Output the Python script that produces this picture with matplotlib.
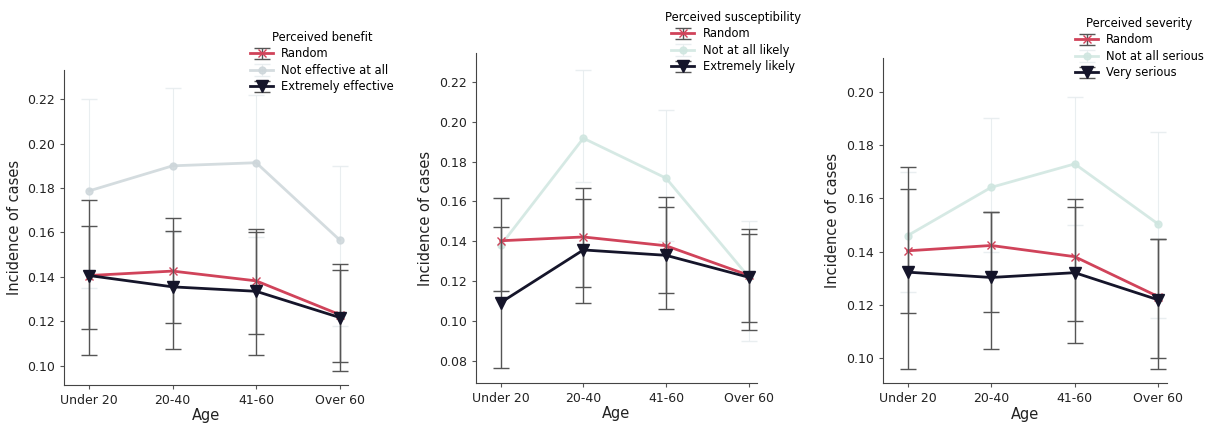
import matplotlib
matplotlib.use("Agg")
import matplotlib.pyplot as plt
import numpy as np

plt.rcParams["font.family"] = ["DejaVu Sans"]

ages = ["Under 20", "20-40", "41-60", "Over 60"]

# Panel 1: perceived benefit
benefit_title = "Perceived benefit"
benefit_labels = ["Random", "Not effective at all", "Extremely effective"]
benefit_mean = [
    [0.1406, 0.1426, 0.1382, 0.1230],
    [0.1787, 0.1900, 0.1914, 0.1566],
    [0.1406, 0.1355, 0.1335, 0.1217],
]
benefit_lo = [
    [0.1164, 0.1194, 0.1141, 0.1015],
    [0.1350, 0.1600, 0.1580, 0.1180],
    [0.1048, 0.1074, 0.1050, 0.0976],
]
benefit_hi = [
    [0.1630, 0.1666, 0.1614, 0.1433],
    [0.2200, 0.2250, 0.2220, 0.1900],
    [0.1746, 0.1608, 0.1603, 0.1460],
]

# Panel 2: perceived susceptibility
suscept_title = "Perceived susceptibility"
suscept_labels = ["Random", "Not at all likely", "Extremely likely"]
suscept_mean = [
    [0.1403, 0.1422, 0.1378, 0.1230],
    [0.1380, 0.1917, 0.1717, 0.1222],
    [0.1093, 0.1357, 0.1330, 0.1220],
]
suscept_lo = [
    [0.1152, 0.1172, 0.1139, 0.0997],
    [0.1150, 0.1700, 0.1400, 0.0900],
    [0.0763, 0.1092, 0.1060, 0.0958],
]
suscept_hi = [
    [0.1615, 0.1668, 0.1621, 0.1435],
    [0.1615, 0.2260, 0.2060, 0.1500],
    [0.1473, 0.1610, 0.1574, 0.1460],
]

# Panel 3: perceived severity
severity_title = "Perceived severity"
severity_labels = ["Random", "Not at all serious", "Very serious"]
severity_mean = [
    [0.1403, 0.1423, 0.1381, 0.1231],
    [0.1460, 0.1641, 0.1729, 0.1503],
    [0.1323, 0.1303, 0.1321, 0.1219],
]
severity_lo = [
    [0.1169, 0.1173, 0.1138, 0.1000],
    [0.1250, 0.1400, 0.1500, 0.1150],
    [0.0960, 0.1034, 0.1056, 0.0960],
]
severity_hi = [
    [0.1636, 0.1548, 0.1598, 0.1446],
    [0.1700, 0.1900, 0.1980, 0.1850],
    [0.1719, 0.1548, 0.1566, 0.1446],
]

panels = [
    (benefit_title, benefit_labels, benefit_mean, benefit_lo, benefit_hi,
     [0.0527, 0.0898, 0.234, 0.745], (0.0913, 0.2332), np.arange(0.10, 0.221, 0.02),
     (250, 31), "#cdd6da"),
    (suscept_title, suscept_labels, suscept_mean, suscept_lo, suscept_hi,
     [0.392, 0.0946, 0.2315, 0.780], (0.069, 0.2344), np.arange(0.08, 0.221, 0.02),
     (665, 11), "#cfe6e0"),
    (severity_title, severity_labels, severity_mean, severity_lo, severity_hi,
     [0.727, 0.0938, 0.234, 0.769], (0.0906, 0.2126), np.arange(0.10, 0.201, 0.02),
     (1075, 17), "#cfe6e0"),
]

W, H = 1214, 423
fig = plt.figure(figsize=(W / 100, H / 100), dpi=100)

x = np.arange(len(ages))
for title, labels, means, los, his, rect, ylim, yticks, leg_xy, light in panels:
    ax = fig.add_axes(rect)
    styles = [
        dict(color="#d0435a", marker="x", ms=6, lw=2, ecolor="#555555",
             elinewidth=1, alpha=1.0, zorder=3),
        dict(color=light, marker="o", ms=5, lw=2, ecolor="#e6ecee",
             elinewidth=0.8, alpha=0.85, zorder=1),
        dict(color="#15152a", marker="v", ms=8, lw=2, ecolor="#555555",
             elinewidth=1, alpha=1.0, zorder=4),
    ]
    for lab, m, lo, hi, st in zip(labels, means, los, his, styles):
        m = np.array(m)
        yerr = [m - np.array(lo), np.array(hi) - m]
        ax.errorbar(x, m, yerr=yerr, label=lab, capsize=6, capthick=1, **st)
    ax.set_xlim(-0.3, 3.1)
    ax.set_ylim(*ylim)
    ax.set_yticks(yticks)
    ax.set_yticklabels([f"{v:.2f}" for v in yticks])
    ax.set_xticks(x)
    ax.set_xticklabels(ages)
    ax.tick_params(labelsize=9, length=3, color="#555555", labelcolor="#222222")
    ax.set_xlabel("Age", fontsize=10.5, labelpad=1, color="#222222")
    ax.set_ylabel("Incidence of cases", fontsize=10.5, color="#222222")
    for s in ["top", "right"]:
        ax.spines[s].set_visible(False)
    for s in ["left", "bottom"]:
        ax.spines[s].set_color("#444444")
    leg = ax.legend(title=title, loc="upper left",
                    bbox_to_anchor=(leg_xy[0] / W, 1 - leg_xy[1] / H),
                    bbox_transform=fig.transFigure, frameon=False,
                    fontsize=8.3, title_fontsize=8.3, borderpad=0,
                    borderaxespad=0, labelspacing=0.3, handletextpad=0.7,
                    handlelength=2.0)

fig.savefig("out.png", dpi=100)
